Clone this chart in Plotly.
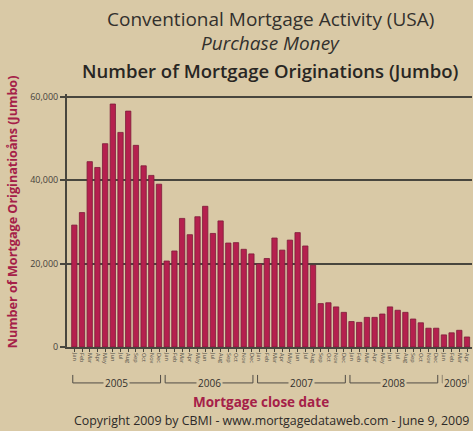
import plotly.graph_objects as go

months = ["Jan", "Feb", "Mar", "Apr", "May", "Jun", "Jul", "Aug", "Sep", "Oct", "Nov", "Dec"]
years = ["2005", "2006", "2007", "2008", "2009"]
months_per_year = [12, 12, 12, 12, 4]

vals_2005 = [29200, 32200, 44400, 43000, 48700, 58200, 51400, 56500, 48300, 43400, 41100, 39000]
vals_2006 = [20600, 23000, 30800, 26900, 31200, 33700, 27200, 30200, 24900, 25000, 23400, 22300]
vals_2007 = [19900, 21200, 26100, 23200, 25600, 27400, 24200, 19600, 10400, 10600, 9600, 8300]
vals_2008 = [6100, 5900, 7100, 7100, 7900, 9600, 8800, 8300, 6700, 5800, 4500, 4500]
vals_2009 = [2900, 3400, 4000, 2400]

y_ticks = [0, 20000, 40000, 60000]
y_tick_labels = ["0", "20,000", "40,000", "60,000"]

categories = []
month_labels = []
for yr, n in zip(years, months_per_year):
    for m in months[:n]:
        categories.append(f"{m} {yr}")
        month_labels.append(m)
values = vals_2005 + vals_2006 + vals_2007 + vals_2008 + vals_2009

BG = "rgb(217,201,166)"
BAR = "rgb(181,32,78)"
BAR_EDGE = "rgb(125,28,58)"
GRID = "rgb(72,70,62)"
CRIMSON = "rgb(165,32,72)"
TXT = "rgb(55,52,48)"
FONT = "Open Sans"

fig = go.Figure()
fig.add_trace(go.Bar(
    x=categories, y=values,
    marker=dict(color=BAR, line=dict(color=BAR_EDGE, width=0.8)),
    hoverinfo="x+y",
))

W, H = 473, 431
ml, mr, mt, mb = 67, 1, 93.5, 84
ph = H - mt - mb

fig.update_layout(
    width=W, height=H,
    margin=dict(l=ml, r=mr, t=mt, b=mb, pad=0),
    paper_bgcolor=BG, plot_bgcolor=BG,
    showlegend=False,
    bargap=0.31,
    font=dict(family=FONT, color=TXT),
    xaxis=dict(
        type="category",
        range=[-0.95, 51.65],
        tickmode="array", tickvals=categories, ticktext=month_labels,
        tickangle=90, tickfont=dict(size=5.5, color="rgb(80,76,70)"),
        ticks="outside", ticklen=3, tickcolor=GRID, tickwidth=1,
        showline=True, linecolor=GRID, linewidth=2,
        showgrid=False, zeroline=False, fixedrange=True,
    ),
    yaxis=dict(
        range=[0, 60600],
        tickmode="array", tickvals=y_ticks, ticktext=y_tick_labels,
        tickfont=dict(size=9, color="rgb(70,66,60)"),
        ticks="outside", ticklen=5, tickcolor=GRID, tickwidth=1.5,
        showgrid=True, gridcolor=GRID, gridwidth=2,
        showline=True, linecolor=GRID, linewidth=2,
        zeroline=False, fixedrange=True,
    ),
)

def py(pix):
    return (H - mb - pix) / ph

def px(pix):
    return (pix - ml) / (W - ml - mr)

ann = []
ann.append(dict(text="Conventional Mortgage Activity (USA)", x=px(270), y=py(18), xref="paper", yref="paper",
                showarrow=False, font=dict(size=19, color="rgb(50,48,45)", family=FONT), xanchor="center", yanchor="middle"))
ann.append(dict(text="<i>Purchase Money</i>", x=px(270), y=py(42), xref="paper", yref="paper",
                showarrow=False, font=dict(size=19, color="rgb(50,48,45)", family=FONT), xanchor="center", yanchor="middle"))
ann.append(dict(text="Number of Mortgage Originations (Jumbo)", x=px(270), y=py(70), xref="paper", yref="paper",
                showarrow=False, font=dict(size=18.5, color="rgb(40,38,35)", family=FONT, weight=600),
                xanchor="center", yanchor="middle"))
ann.append(dict(text="Number of Mortgage Originatioåns (Jumbo)", x=px(12), y=py(212), xref="paper", yref="paper",
                showarrow=False, textangle=-90, font=dict(size=12.6, color=CRIMSON, family=FONT, weight=700),
                xanchor="center", yanchor="middle"))
ann.append(dict(text="Mortgage close date", x=px(261), y=py(402), xref="paper", yref="paper",
                showarrow=False, font=dict(size=13.5, color=CRIMSON, family=FONT, weight=700),
                xanchor="center", yanchor="middle"))
ann.append(dict(text="Copyright 2009 by CBMI - www.mortgagedataweb.com - June 9, 2009", x=px(271), y=py(421),
                xref="paper", yref="paper", showarrow=False,
                font=dict(size=12.4, color="rgb(45,42,40)", family=FONT), xanchor="center", yanchor="middle"))

shapes = []
start = 0
y_line = py(383)
y_top = py(375)
for yr, n in zip(years, months_per_year):
    x0 = start - 0.2
    x1 = start + n - 1 + 0.2
    shapes.append(dict(type="line", xref="x", yref="paper", x0=x0, x1=x1, y0=y_line, y1=y_line,
                       line=dict(color="rgb(80,76,70)", width=1)))
    for xe in (x0, x1):
        shapes.append(dict(type="line", xref="x", yref="paper", x0=xe, x1=xe, y0=y_line, y1=y_top,
                           line=dict(color="rgb(80,76,70)", width=1)))
    ann.append(dict(text=yr, x=(x0 + x1) / 2, y=y_line, xref="x", yref="paper", showarrow=False,
                    font=dict(size=10, color="rgb(50,48,45)", family=FONT), bgcolor=BG,
                    xanchor="center", yanchor="middle", borderpad=1))
    start += n

fig.update_layout(annotations=ann, shapes=shapes)
fig.write_html("out.html", config={"displayModeBar": False})

with open("out.html", "r", encoding="utf-8") as f:
    html = f.read()
html = html.replace("<head>", "<head><style>html,body{margin:0;padding:0;overflow:hidden;background:" + BG + ";}</style>", 1)
with open("out.html", "w", encoding="utf-8") as f:
    f.write(html)
